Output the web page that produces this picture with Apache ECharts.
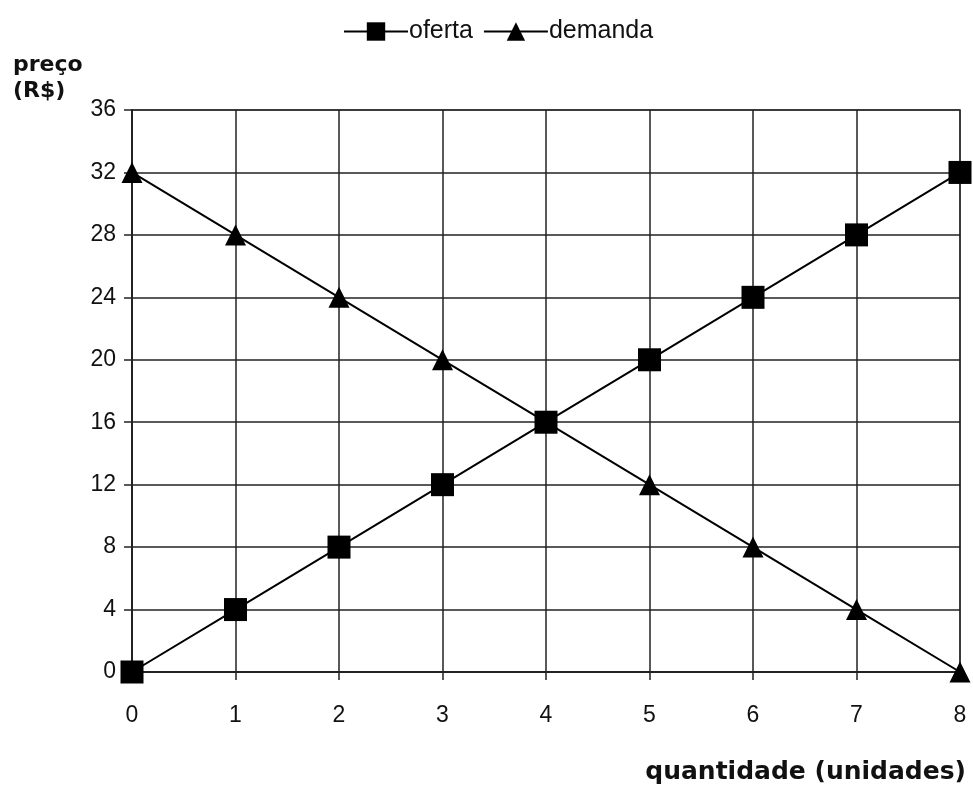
<!DOCTYPE html>
<html>
<head>
<meta charset="utf-8">
<script src="https://cdn.jsdelivr.net/npm/echarts@6/dist/echarts.min.js"></script>
<style>
  html, body { margin: 0; padding: 0; background: #fff; }
  #main { width: 973px; height: 793px; }
</style>
</head>
<body>
<div id="main"></div>
<script>
// quantidades no eixo x
var quantidades = [0, 1, 2, 3, 4, 5, 6, 7, 8];
// preços da oferta e da demanda
var oferta = [0, 4, 8, 12, 16, 20, 24, 28, 32];
var demanda = [32, 28, 24, 20, 16, 12, 8, 4, 0];

var fonte = '"Liberation Sans", Arial, sans-serif';
var fonteTitulo = '"DejaVu Sans", sans-serif';

function pares(ys) {
  return quantidades.map(function (q, i) { return [q, ys[i]]; });
}

var myChart = echarts.init(document.getElementById('main'));

var option = {
  animation: false,
  backgroundColor: '#fff',
  title: [
    {
      text: 'preço\n(R$)',
      left: 8,
      top: 47,
      textStyle: { fontFamily: fonteTitulo, fontSize: 22, fontWeight: 'bold', color: '#111', lineHeight: 26 }
    }
  ],
  legend: {
    top: 14,
    left: 338,
    itemWidth: 64,
    itemHeight: 23,
    itemGap: 10,
    textStyle: { fontFamily: fonte, fontSize: 25, color: '#111', padding: [0, 0, 0, -4] },
    data: ['oferta', 'demanda']
  },
  grid: {
    left: 132,
    right: 13,
    top: 110,
    bottom: 121,
    show: true,
    borderColor: '#888',
    borderWidth: 2
  },
  xAxis: {
    type: 'value',
    min: 0,
    max: 8,
    interval: 1,
    name: 'quantidade (unidades)',
    nameLocation: 'end',
    nameGap: 6,
    nameTextStyle: {
      fontFamily: fonteTitulo, fontSize: 25, fontWeight: 'bold', color: '#111',
      align: 'right', verticalAlign: 'top', padding: [88, 0, 0, 0]
    },
    axisLine: { lineStyle: { color: '#222', width: 2 } },
    axisTick: { show: true, length: 8, lineStyle: { color: '#222', width: 1.5 } },
    axisLabel: { fontFamily: fonte, fontSize: 23, color: '#111', margin: 32 },
    splitLine: { show: true, lineStyle: { color: '#222', width: 1.5 } }
  },
  yAxis: {
    type: 'value',
    min: 0,
    max: 36,
    interval: 4,
    axisLine: { show: true, lineStyle: { color: '#222', width: 2 } },
    axisTick: { show: true, length: 8, lineStyle: { color: '#222', width: 1.5 } },
    axisLabel: { fontFamily: fonte, fontSize: 23, color: '#111', margin: 16 },
    splitLine: { show: true, lineStyle: { color: '#222', width: 1.5 } }
  },
  series: [
    {
      name: 'oferta',
      type: 'line',
      data: pares(oferta),
      symbol: 'rect',
      symbolSize: 23,
      clip: false,
      itemStyle: { color: '#000' },
      lineStyle: { color: '#000', width: 2 }
    },
    {
      name: 'demanda',
      type: 'line',
      data: pares(demanda),
      symbol: 'triangle',
      symbolSize: 21,
      clip: false,
      itemStyle: { color: '#000' },
      lineStyle: { color: '#000', width: 2 }
    }
  ]
};

myChart.setOption(option);
</script>
</body>
</html>
